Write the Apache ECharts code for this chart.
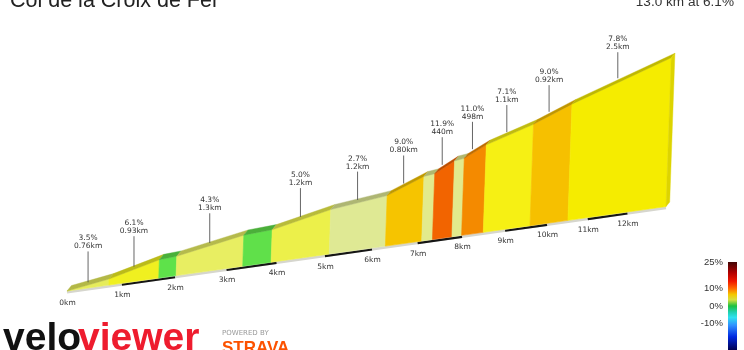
<!DOCTYPE html>
<html><head><meta charset="utf-8">
<script src="https://cdn.jsdelivr.net/npm/echarts@6/dist/echarts.min.js"></script>
<style>html,body{margin:0;padding:0;background:#fff}#c{width:744px;height:350px}</style>
</head><body><div id="c"></div>
<script>
// ---- data ----
const titleText = 'Col de la Croix de Fer';
const summaryText = '13.0 km at 6.1%';
const boundaryKm   = [0, 0.76, 1.69, 2.02, 3.32, 3.89, 5.09, 6.29, 7.09, 7.33, 7.77, 7.99, 8.49, 9.59, 10.51, 13.0];
const boundaryElev = [0, 27, 83, 88, 144, 152, 212, 245, 317, 324, 376, 383, 438, 516, 599, 793];
const segGrade  = ['3.5%', '6.1%', '', '4.3%', '', '5.0%', '2.7%', '9.0%', '', '11.9%', '', '11.0%', '7.1%', '9.0%', '7.8%'];
const segLength = ['0.76km', '0.93km', '', '1.3km', '', '1.2km', '1.2km', '0.80km', '', '440m', '', '498m', '1.1km', '0.92km', '2.5km'];
const kmTicks = [0, 1, 2, 3, 4, 5, 6, 7, 8, 9, 10, 11, 12];
const kmTickLabels = ['0km', '1km', '2km', '3km', '4km', '5km', '6km', '7km', '8km', '9km', '10km', '11km', '12km'];
const kmBars = [[1, 2], [3, 4], [5, 6], [7, 8], [9, 10], [11, 12]];
const scaleTicks = [25, 10, 0, -10];
const scaleTickLabels = ['25%', '10%', '0%', '-10%'];

// ---- styles / projection ----
const segColors = ['#e6ec5a', '#f0f020', '#5ee24a', '#e8ee62', '#60e04a', '#ecf04a', '#dfe994', '#f6c400',
                   '#e2ea8c', '#f26400', '#e2ea8c', '#f48a00', '#f6f014', '#f6c000', '#f5ec00'];
const PERSP = 0.0003107, MAG = 1.0709, TILT = 0.141, LEAN = 0.035, DEPTH = [4.5, -5.5];
const LEADER = 31;
const labelFont = '"DejaVu Sans"';

function shade(hex, f) {
  const n = parseInt(hex.slice(1), 16);
  const r = Math.round(((n >> 16) & 255) * f), g = Math.round(((n >> 8) & 255) * f), b = Math.round((n & 255) * f);
  return 'rgb(' + r + ',' + g + ',' + b + ')';
}
function projector(api) {
  const o = api.coord([0, 0]);
  return function (km, elev) {
    const p = api.coord([km, elev]);
    const u = p[0] - o[0], h = o[1] - p[1];
    const w = 1 + PERSP * u;
    return [o[0] + MAG * (u + LEAN * h) / w, o[1] - MAG * (TILT * u + h) / w, w];
  };
}
function dep(p) { return [p[0] + DEPTH[0] / p[2], p[1] + DEPTH[1] / p[2]]; }

const segData = [];
for (let i = 0; i < boundaryKm.length - 1; i++) {
  segData.push([boundaryKm[i], boundaryKm[i + 1], boundaryElev[i], boundaryElev[i + 1], i]);
}
const labelData = [];
segData.forEach(function (s, i) {
  if (segGrade[i]) labelData.push([(s[0] + s[1]) / 2, (s[2] + s[3]) / 2, i]);
});
const lastKm = boundaryKm[boundaryKm.length - 1], lastElev = boundaryElev[boundaryElev.length - 1];

const chart = echarts.init(document.getElementById('c'), null, { renderer: 'canvas' });
chart.setOption({
  backgroundColor: '#ffffff',
  animation: false,
  grid: [
    { left: 67, top: 121.4, right: 0, height: 169.6 },
    { left: 728, top: 262, width: 9, height: 90 }
  ],
  xAxis: [
    { gridIndex: 0, type: 'value', min: 0, max: 13, show: false },
    { gridIndex: 1, type: 'value', min: 0, max: 1, show: false }
  ],
  yAxis: [
    { gridIndex: 0, type: 'value', min: 0, max: 800, show: false },
    { gridIndex: 1, type: 'value', min: -25, max: 25, interval: 5, position: 'left',
      axisLine: { show: false }, axisTick: { show: false }, splitLine: { show: false },
      axisLabel: { margin: 5, fontSize: 9.5, color: '#333', fontFamily: '"Liberation Sans"',
        formatter: function (v) { const k = scaleTicks.indexOf(v); return k >= 0 ? scaleTickLabels[k] : ''; } } }
  ],
  series: [
    { // ground strip
      type: 'custom', xAxisIndex: 0, yAxisIndex: 0, clip: false, silent: true,
      data: [[0, lastKm]],
      renderItem: function (params, api) {
        const P = projector(api);
        const a = P(api.value(0), 0), b = P(api.value(1), 0);
        return { type: 'line', shape: { x1: a[0], y1: a[1] + 1.3, x2: b[0], y2: b[1] + 1.3 },
          style: { stroke: '#d6d6ce', lineWidth: 2.6 } };
      }
    },
    { // km bars
      type: 'custom', xAxisIndex: 0, yAxisIndex: 0, clip: false, silent: true,
      data: kmBars,
      renderItem: function (params, api) {
        const P = projector(api);
        const a = P(api.value(0), 0), b = P(api.value(1), 0);
        return { type: 'line', shape: { x1: a[0], y1: a[1] + 1.5, x2: b[0], y2: b[1] + 1.5 },
          style: { stroke: '#151515', lineWidth: 2.2 } };
      }
    },
    { // segments
      type: 'custom', xAxisIndex: 0, yAxisIndex: 0, clip: false, silent: true,
      data: segData,
      encode: { x: [0, 1], y: [2, 3] },
      renderItem: function (params, api) {
        const P = projector(api);
        const k0 = api.value(0), k1 = api.value(1), e0 = api.value(2), e1 = api.value(3);
        const col = segColors[api.value(4)];
        const B0 = P(k0, 0), B1 = P(k1, 0), T0 = P(k0, e0), T1 = P(k1, e1);
        const D0 = dep(T0), D1 = dep(T1);
        return { type: 'group', children: [
          { type: 'polygon', shape: { points: [[B0[0], B0[1]], [B1[0], B1[1]], [T1[0], T1[1]], [T0[0], T0[1]]] },
            style: { fill: col, stroke: col, lineWidth: 0.6 } },
          { type: 'polygon', shape: { points: [[T0[0], T0[1]], [T1[0], T1[1]], D1, D0] },
            style: { fill: shade(col, 0.78), stroke: shade(col, 0.78), lineWidth: 0.4 } }
        ] };
      }
    },
    { // end cap
      type: 'custom', xAxisIndex: 0, yAxisIndex: 0, clip: false, silent: true,
      data: [[lastKm, lastElev]],
      renderItem: function (params, api) {
        const P = projector(api);
        const B = P(api.value(0), 0), T = P(api.value(0), api.value(1));
        const col = segColors[segColors.length - 1];
        return { type: 'polygon', shape: { points: [[B[0], B[1]], [T[0], T[1]], dep(T), dep(B)] },
          style: { fill: shade(col, 0.9), stroke: shade(col, 0.9), lineWidth: 0.4 } };
      }
    },
    { // km labels
      type: 'custom', xAxisIndex: 0, yAxisIndex: 0, clip: false, silent: true,
      data: kmTicks.map(function (k, i) { return [k, 0, i]; }),
      renderItem: function (params, api) {
        const P = projector(api);
        const B = P(api.value(0), 0);
        return { type: 'text', x: B[0] + 0.5, y: B[1] + 12,
          style: { text: kmTickLabels[api.value(2)], fontSize: 7.5, fontFamily: labelFont, fill: '#333',
            align: 'center', verticalAlign: 'middle' } };
      }
    },
    { // segment labels with leaders
      type: 'custom', xAxisIndex: 0, yAxisIndex: 0, clip: false, silent: true,
      data: labelData,
      renderItem: function (params, api) {
        const P = projector(api);
        const i = api.value(2);
        const T = P(api.value(0), api.value(1));
        const x = P(api.value(0), 0)[0];
        const yb = T[1] + 0.5 * DEPTH[1] / T[2];
        const topY = yb - LEADER / T[2];
        return { type: 'group', children: [
          { type: 'line', shape: { x1: x, y1: yb, x2: x, y2: topY },
            style: { stroke: '#555', lineWidth: 0.9 } },
          { type: 'text', x: x, y: topY - 1,
            style: { text: segGrade[i] + '\n' + segLength[i], fontSize: 7.5, lineHeight: 8, fontFamily: labelFont,
              fill: '#333', align: 'center', verticalAlign: 'bottom' } }
        ] };
      }
    },
    { // colour scale bar
      type: 'custom', xAxisIndex: 1, yAxisIndex: 1, clip: false, silent: true,
      data: [[0, 25, 1, -25]],
      renderItem: function (params, api) {
        const a = api.coord([api.value(0), api.value(1)]), b = api.coord([api.value(2), api.value(3)]);
        return { type: 'rect', shape: { x: a[0], y: a[1], width: b[0] - a[0], height: b[1] - a[1] },
          style: { fill: new echarts.graphic.LinearGradient(0, 0, 0, 1, [
            { offset: 0, color: '#420606' }, { offset: 0.12, color: '#b00000' }, { offset: 0.22, color: '#f01800' },
            { offset: 0.30, color: '#ff6a00' }, { offset: 0.37, color: '#f4c800' }, { offset: 0.43, color: '#d6e040' },
            { offset: 0.50, color: '#1cc040' }, { offset: 0.57, color: '#20d0b0' }, { offset: 0.63, color: '#30e0f0' },
            { offset: 0.72, color: '#3090ff' }, { offset: 0.85, color: '#0028e0' }, { offset: 1, color: '#000050' }
          ]) } };
      }
    }
  ],
  graphic: [
    { type: 'text', x: 10, y: 1, silent: true,
      style: { text: titleText, fontSize: 21.5, fontFamily: '"Liberation Sans"', fill: '#222', verticalAlign: 'middle' } },
    { type: 'text', x: 734, y: 2.4, silent: true,
      style: { text: summaryText, fontSize: 13.6, fontFamily: '"Liberation Sans"', fill: '#333', align: 'right', verticalAlign: 'middle' } },
    { type: 'text', x: 3, y: 339, silent: true,
      style: { text: 'velo', fontSize: 39, fontWeight: 900, fontFamily: '"Liberation Sans"', fill: '#111', verticalAlign: 'middle' } },
    { type: 'text', x: 78, y: 339, silent: true,
      style: { text: 'viewer', fontSize: 39, fontWeight: 900, fontFamily: '"Liberation Sans"', fill: '#ee1c2e', verticalAlign: 'middle' } },
    { type: 'text', x: 222, y: 333, silent: true,
      style: { text: 'POWERED BY', fontSize: 7, fontFamily: '"DejaVu Sans"', fill: '#999', verticalAlign: 'middle' } },
    { type: 'text', x: 222, y: 348, silent: true,
      style: { text: 'STRAVA', fontSize: 17, fontWeight: 'bold', fontFamily: '"Liberation Sans"', fill: '#fc5200', verticalAlign: 'middle' } }
  ]
});
</script></body></html>
